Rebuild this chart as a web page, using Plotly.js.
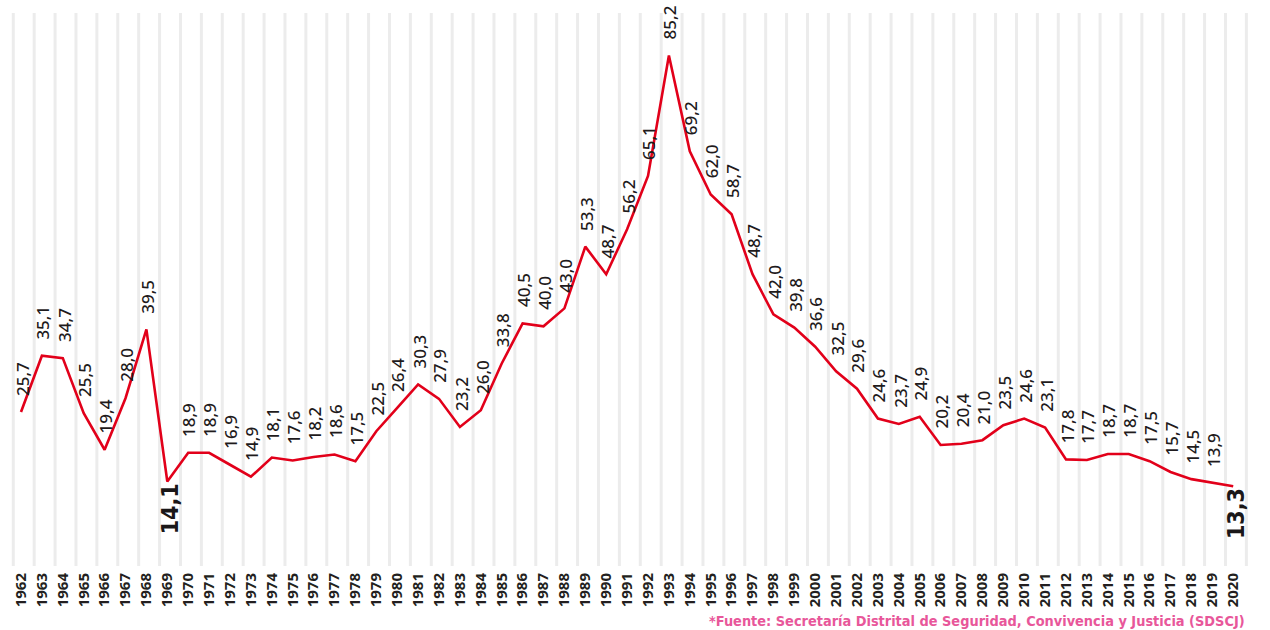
<!DOCTYPE html>
<html>
<head>
<meta charset="utf-8">
<script src="https://cdn.plot.ly/plotly-3.0.1.min.js"></script>
<style>
  html, body { margin: 0; padding: 0; background: #ffffff; }
  #chart { width: 1270px; height: 630px; }
</style>
</head>
<body>
<div id="chart"></div>
<script>
// Years (categories)
const years = [
  1962, 1963, 1964, 1965, 1966, 1967, 1968, 1969, 1970, 1971,
  1972, 1973, 1974, 1975, 1976, 1977, 1978, 1979, 1980, 1981,
  1982, 1983, 1984, 1985, 1986, 1987, 1988, 1989, 1990, 1991,
  1992, 1993, 1994, 1995, 1996, 1997, 1998, 1999, 2000, 2001,
  2002, 2003, 2004, 2005, 2006, 2007, 2008, 2009, 2010, 2011,
  2012, 2013, 2014, 2015, 2016, 2017, 2018, 2019, 2020
];
// Homicide rate values
const rates = [
  25.7, 35.1, 34.7, 25.5, 19.4, 28.0, 39.5, 14.1, 18.9, 18.9,
  16.9, 14.9, 18.1, 17.6, 18.2, 18.6, 17.5, 22.5, 26.4, 30.3,
  27.9, 23.2, 26.0, 33.8, 40.5, 40.0, 43.0, 53.3, 48.7, 56.2,
  65.1, 85.2, 69.2, 62.0, 58.7, 48.7, 42.0, 39.8, 36.6, 32.5,
  29.6, 24.6, 23.7, 24.9, 20.2, 20.4, 21.0, 23.5, 24.6, 23.1,
  17.8, 17.7, 18.7, 18.7, 17.5, 15.7, 14.5, 13.9, 13.3
];
// Years whose label is highlighted (bold, below the line)
const highlightYears = [1969, 2020];
const tickLabels = years.map(String);
const sourceText = "*Fuente: Secretaría Distrital de Seguridad, Convivencia y Justicia (SDSCJ)";

const fmt = v => v.toFixed(1).replace('.', ',');

const annotations = years.map((yr, i) => {
  const hi = highlightYears.includes(yr);
  if (hi) {
    return {
      x: yr, y: rates[i], xref: 'x', yref: 'y',
      text: '<b>' + fmt(rates[i]) + '</b>',
      showarrow: false, textangle: -90,
      xanchor: 'center', yanchor: 'top', yshift: 0, xshift: 3,
      font: { family: '"Liberation Sans Narrow", "DejaVu Sans Condensed", "Noto Sans", sans-serif', size: 23, color: '#1a1718' }
    };
  }
  return {
    x: yr, y: rates[i], xref: 'x', yref: 'y',
    text: fmt(rates[i]),
    showarrow: false, textangle: -90,
    xanchor: 'center', yanchor: 'bottom', yshift: 14, xshift: 1,
    font: { family: '"Noto Sans", "Open Sans", sans-serif', size: 17, color: '#1f1b1c', weight: 500 }
  };
});

annotations.push({
  xref: 'paper', yref: 'paper', x: 0.982, y: -0.1,
  xanchor: 'right', yanchor: 'middle', showarrow: false,
  text: '<b>' + sourceText + '</b>',
  font: { family: '"Liberation Sans Narrow", "DejaVu Sans Condensed", "Noto Sans", sans-serif', size: 14.4, color: '#e8579a' }
});

const gridYears = years.concat([2021]);
const shapes = gridYears.map(yr => ({
  type: 'line', xref: 'x', yref: 'paper',
  x0: yr - 0.37, x1: yr - 0.37, y0: 0, y1: 1,
  line: { color: '#ececec', width: 3 }, layer: 'below'
}));

const trace = {
  x: years, y: rates, type: 'scatter', mode: 'lines',
  line: { color: '#e2001a', width: 2.6 },
  hoverinfo: 'x+y'
};

const layout = {
  width: 1270, height: 630,
  margin: { l: 0, r: 0, t: 13, b: 64 },
  paper_bgcolor: '#ffffff', plot_bgcolor: '#ffffff',
  showlegend: false,
  xaxis: {
    range: [1960.995, 2021.76],
    tickmode: 'array', tickvals: years, ticktext: tickLabels,
    tickangle: -90, ticks: '', showgrid: false, zeroline: false, showline: false,
    tickfont: { family: '"Noto Sans", "Open Sans", sans-serif', size: 15, color: '#231f20', weight: 'bold' },
    ticklabelstandoff: 3
  },
  yaxis: {
    range: [0, 92.3], visible: false, showgrid: false, zeroline: false
  },
  shapes: shapes,
  annotations: annotations
};

Plotly.newPlot('chart', [trace], layout, { displayModeBar: false, staticPlot: true });
</script>
</body>
</html>
